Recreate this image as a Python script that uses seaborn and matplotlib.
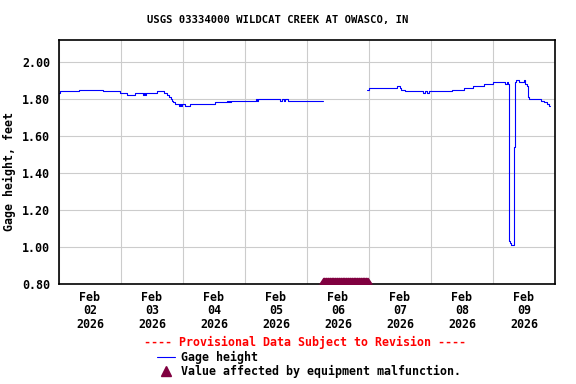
import pandas as pd
import matplotlib
matplotlib.use('Agg')
import matplotlib.pyplot as plt
import matplotlib.dates as mdates
import matplotlib.ticker as ticker
from matplotlib.lines import Line2D
import seaborn as sns

# Datos (horas desde 2026-02-02 00:00, altura en pies)
inicio = pd.Timestamp('2026-02-02 00:00')

horas_1 = [0.0, 0.4, 7.7, 17.0, 23.6, 26.3, 29.4, 32.5, 32.9, 33.3, 33.7, 37.9,
           40.6, 41.8, 42.6, 43.4, 43.7, 44.1, 44.9, 46.4, 46.8, 47.2, 47.6,
           48.8, 50.7, 60.4, 65.0, 65.4, 65.8, 66.2, 66.6, 68.5, 76.3, 76.6,
           77.0, 85.5, 86.3, 87.1, 87.5, 88.6, 102.2]
altura_1 = [1.83, 1.84, 1.85, 1.84, 1.83, 1.82, 1.83, 1.82, 1.83, 1.82, 1.83, 1.84,
            1.83, 1.82, 1.81, 1.80, 1.79, 1.78, 1.77, 1.76, 1.77, 1.76, 1.77,
            1.76, 1.77, 1.78, 1.79, 1.78, 1.79, 1.78, 1.79, 1.79, 1.80, 1.79,
            1.80, 1.79, 1.80, 1.79, 1.80, 1.79, 1.79]

horas_2 = [119.2, 120.0, 130.8, 132.0, 132.4, 133.9, 140.9, 141.7, 142.4, 143.2,
           152.1, 156.8, 160.3, 164.5, 168.0, 172.6, 173.4, 173.8, 174.2, 174.6,
           175.0, 176.1, 176.5, 176.9, 178.0, 180.0, 180.4, 181.2, 181.5, 181.9,
           186.6, 187.7, 188.9, 189.7, 190.1]
altura_2 = [1.85, 1.86, 1.87, 1.86, 1.85, 1.84, 1.83, 1.84, 1.83, 1.84,
            1.85, 1.86, 1.87, 1.88, 1.89, 1.88, 1.89, 1.88, 1.03, 1.02,
            1.01, 1.54, 1.89, 1.90, 1.89, 1.90, 1.88, 1.87, 1.81, 1.80,
            1.79, 1.78, 1.77, 1.76, 1.76]

# Periodo con falla del equipo (un valor cada 15 min)
malf_inicio = '2026-02-06 06:15'
malf_fin = '2026-02-06 23:30'

dias = ['2026-02-02', '2026-02-03', '2026-02-04', '2026-02-05',
        '2026-02-06', '2026-02-07', '2026-02-08', '2026-02-09']
y_ticks = [0.80, 1.00, 1.20, 1.40, 1.60, 1.80, 2.00]

df = pd.concat([
    pd.DataFrame({'tiempo': inicio + pd.to_timedelta(horas_1, unit='h'),
                  'altura': altura_1, 'tramo': 1}),
    pd.DataFrame({'tiempo': inicio + pd.to_timedelta(horas_2, unit='h'),
                  'altura': altura_2, 'tramo': 2}),
])
tiempos_malf = pd.date_range(malf_inicio, malf_fin, freq='15min')
df_malf = pd.DataFrame({'tiempo': tiempos_malf, 'altura': y_ticks[0]})

sns.set_theme(style='white')
plt.rcParams['font.family'] = ['DejaVu Sans Mono']
plt.rcParams['font.weight'] = 'bold'
for clave in ['text.color', 'axes.labelcolor', 'xtick.color', 'ytick.color']:
    plt.rcParams[clave] = 'black'

fig = plt.figure(figsize=(5.76, 3.84), dpi=100)
ax = fig.add_axes([59 / 576, 1 - 284 / 384, 496 / 576, 244.5 / 384])

sns.lineplot(data=df, x='tiempo', y='altura', units='tramo', estimator=None,
             drawstyle='steps-post', color='#0000ff', linewidth=0.8,
             legend=False, ax=ax)

# Triangulos de falla apoyados en el borde inferior
triangulo = [(-1, 0), (1, 0), (0, 1.55), (-1, 0)]
sns.scatterplot(data=df_malf, x='tiempo', y='altura', marker=triangulo, s=100,
                color='#800040', linewidth=0, clip_on=False, zorder=5,
                legend=False, ax=ax)

ax.set_xlim(pd.Timestamp(dias[0]), pd.Timestamp(dias[-1]) + pd.Timedelta(days=1))
ax.set_ylim(0.80, 2.12)

ax.xaxis.set_major_locator(mdates.DayLocator())
ax.xaxis.set_major_formatter(ticker.NullFormatter())
ax.set_xticks([pd.Timestamp(d) + pd.Timedelta(hours=12) for d in dias], minor=True)
ax.set_xticklabels([pd.Timestamp(d).strftime('%b\n%d\n%Y') for d in dias],
                   minor=True, fontsize=8.4, fontweight='bold', linespacing=1.05)
ax.set_yticks(y_ticks)
ax.yaxis.set_major_formatter(ticker.FormatStrFormatter('%.2f'))
ax.tick_params(axis='both', which='both', length=0, labelsize=8.4,
               labelcolor='black')
ax.tick_params(axis='y', pad=6.5)
ax.tick_params(axis='x', which='minor', pad=5)

ax.grid(True, which='major', color='#cccccc', linewidth=0.8)
for lado in ax.spines.values():
    lado.set_color('black')
    lado.set_linewidth(1.2)

ax.set_xlabel('')
ax.set_ylabel('Gage height, feet', fontsize=8.4, fontweight='bold', color='black')
ax.yaxis.set_label_coords(-0.087, 0.46)

fig.text(277.5 / 576, 1 - 20.5 / 384, 'USGS 03334000 WILDCAT CREEK AT OWASCO, IN',
         ha='center', va='center', fontsize=7.6, fontweight='bold', color='black')
fig.text(305.5 / 576, 1 - 342.7 / 384,
         '---- Provisional Data Subject to Revision ----',
         ha='center', va='center', fontsize=8.4, fontweight='bold', color='red')

manejadores = [
    Line2D([], [], color='#0000ff', linewidth=0.8),
    Line2D([], [], color='#800040', marker='^', linestyle='none', markersize=7),
]
fig.legend(manejadores, ['Gage height', 'Value affected by equipment malfunction.'],
           loc='upper left', bbox_to_anchor=(157 / 576, 1 - 350.5 / 384),
           frameon=False, handlelength=1.55, handletextpad=0.5,
           borderpad=0, borderaxespad=0, labelspacing=0.15,
           labelcolor='black', prop={'weight': 'bold', 'size': 8.4})

fig.savefig('out.png', dpi=100)
